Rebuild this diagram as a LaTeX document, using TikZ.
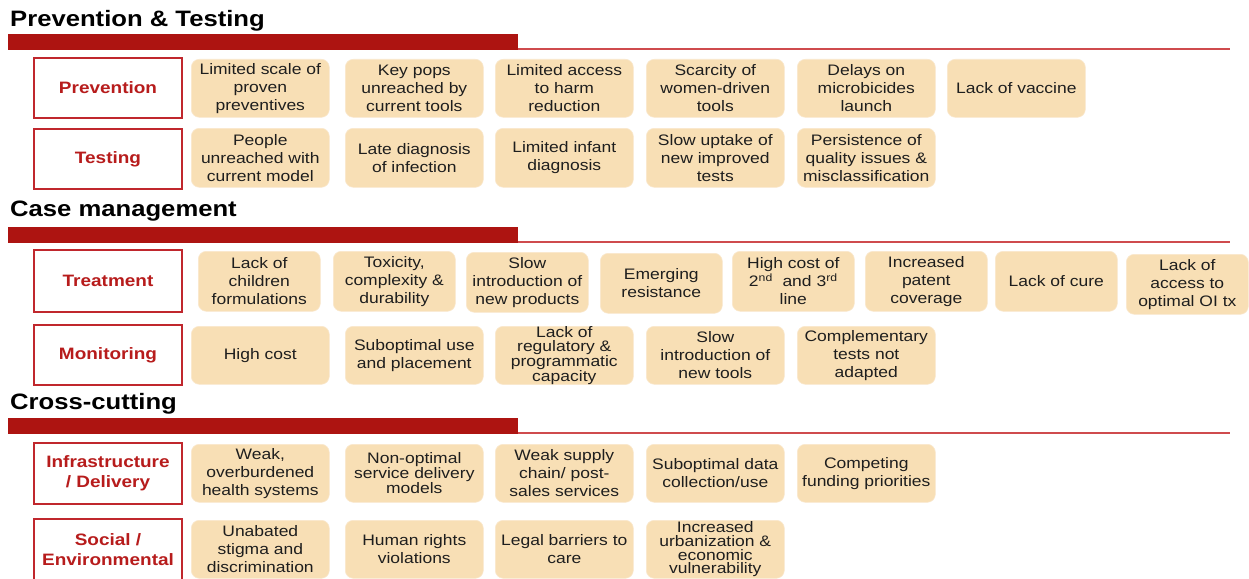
\documentclass[tikz,border=0pt]{standalone}
\usepackage{fontspec}
\setmainfont{Liberation Sans}[FakeStretch=1.15]
\definecolor{beige}{HTML}{F8DFB5}
\definecolor{beigeedge}{HTML}{FAE8CD}
\definecolor{barred}{HTML}{AD1411}
\definecolor{linered}{HTML}{CF4B4E}
\definecolor{catred}{HTML}{C0272D}
\definecolor{cattext}{HTML}{B71C1C}
\definecolor{txt}{HTML}{1E1E1E}
\tikzset{
 cell/.style={fill=beige, draw=beigeedge, line width=0.6pt, rounded corners=8pt, align=center, inner sep=0pt, anchor=north west, text=txt, font=\fontsize{15.2}{18}\selectfont},
 wa/.style={cell, minimum width=138pt, minimum height=58pt},
 wb/.style={cell, minimum width=122pt, minimum height=60pt},
 tight/.style={font=\fontsize{15.2}{13.7}\selectfont},
 cat/.style={draw=catred, line width=2pt, fill=white, minimum width=148pt, minimum height=60pt, align=center, inner sep=0pt, text=cattext, font=\fontsize{16.5}{20}\selectfont\bfseries},
 head/.style={anchor=base west, inner sep=0pt, font=\fontsize{22.3}{26}\selectfont\bfseries, text=black},
 bar/.style={fill=barred},
 rulel/.style={draw=linered, line width=1.5pt},
}
\begin{document}
\begin{tikzpicture}[x=1pt,y=-1pt]
\useasboundingbox (0,0) rectangle (1249,578);
\clip (0,0) rectangle (1249,578);
\fill[white] (0,0) rectangle (1249,578);

% Section 1
\node[head] (h1) at (10,27) {Prevention \& Testing};
\draw[rulel] (518,49) -- (1230,49);
\fill[bar] (8,34) rectangle (518,50);

\node[cat] (c1) at (108,88) {Prevention};
\node[wa] (a1) at (191,59) {Limited scale of\\proven\\preventives};
\node[wa] (a2) at (345,59) {Key pops\\unreached by\\current tools};
\node[wa] (a3) at (495,59) {Limited access\\to harm\\reduction};
\node[wa] (a4) at (646,59) {Scarcity of\\women-driven\\tools};
\node[wa] (a5) at (797,59) {Delays on\\microbicides\\launch};
\node[wa] (a6) at (947,59) {Lack of vaccine};

\node[cat] (c2) at (108,159) {Testing};
\node[wa, minimum height=59pt] (b1) at (191,128) {People\\unreached with\\current model};
\node[wa, minimum height=59pt] (b2) at (345,128) {Late diagnosis\\of infection};
\node[wa, minimum height=59pt] (b3) at (495,128) {Limited infant\\diagnosis};
\node[wa, minimum height=59pt] (b4) at (646,128) {Slow uptake of\\new improved\\tests};
\node[wa, minimum height=59pt] (b5) at (797,128) {Persistence of\\quality issues \&\\misclassification};

% Section 2
\node[head] (h2) at (10,216) {Case management};
\draw[rulel] (518,242) -- (1230,242);
\fill[bar] (8,227) rectangle (518,243);

\node[cat, minimum height=62pt] (c3) at (108,281) {Treatment};
\node[wb] (t1) at (198,251) {Lack of\\children\\formulations};
\node[wb] (t2) at (333,251) {Toxicity,\\complexity \&\\durability};
\node[wb] (t3) at (466,252) {Slow\\introduction of\\new products};
\node[wb] (t4) at (600,253) {Emerging\\resistance};
\node[wb] (t5) at (732,251) {High cost of\\2\textsuperscript{nd}\ \ and 3\textsuperscript{rd}\\line};
\node[wb] (t6) at (865,251) {Increased\\patent\\coverage};
\node[wb] (t7) at (995,251) {Lack of cure};
\node[wb] (t8) at (1126,254) {Lack of\\access to\\optimal OI tx};

\node[cat] (c4) at (108,355) {Monitoring};
\node[wa] (m1) at (191,326) {High cost};
\node[wa] (m2) at (345,326) {Suboptimal use\\and placement};
\node[wa, tight] (m3) at (495,326) {Lack of\\regulatory \&\\programmatic\\capacity};
\node[wa] (m4) at (646,326) {Slow\\introduction of\\new tools};
\node[wa] (m5) at (797,326) {Complementary\\tests not\\adapted};

% Section 3
\node[head] (h3) at (10,409) {Cross-cutting};
\draw[rulel] (518,433) -- (1230,433);
\fill[bar] (8,418) rectangle (518,434);

\node[cat, minimum height=61pt] (c5) at (108,473.5) {Infrastructure\\/ Delivery};
\node[wa] (i1) at (191,444) {Weak,\\overburdened\\health systems};
\node[wa, tight] (i2) at (345,444) {Non-optimal\\service delivery\\models};
\node[wa] (i3) at (495,444) {Weak supply\\chain/ post-\\sales services};
\node[wa] (i4) at (646,444) {Suboptimal data\\collection/use};
\node[wa] (i5) at (797,444) {Competing\\funding priorities};

\node[cat, minimum height=62pt] (c6) at (108,550) {Social /\\Environmental};
\node[wa] (s1) at (191,520) {Unabated\\stigma and\\discrimination};
\node[wa] (s2) at (345,520) {Human rights\\violations};
\node[wa] (s3) at (495,520) {Legal barriers to\\care};
\node[wa, tight] (s4) at (646,520) {Increased\\urbanization \&\\economic\\vulnerability};
\end{tikzpicture}
\end{document}
